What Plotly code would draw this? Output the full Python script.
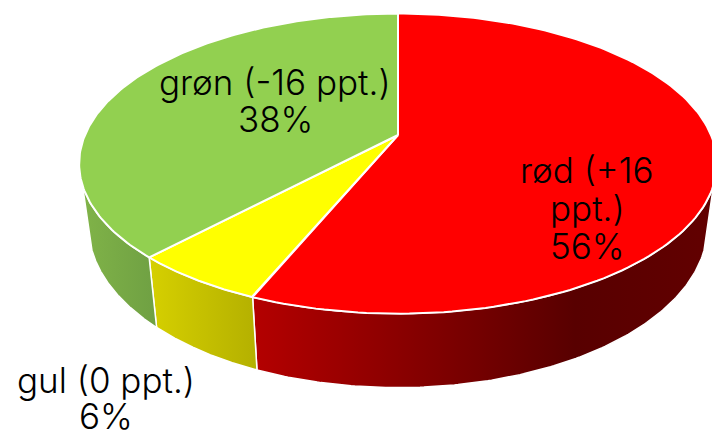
import numpy as np
import plotly.graph_objects as go

categories = ["rød", "gul", "grøn"]
values = [56.25, 5.75, 38.0]
shown_percent = ["56%", "6%", "38%"]
changes = ["+16 ppt.", "0 ppt.", "-16 ppt."]
top_colors = ["#FF0000", "#FFFF00", "#92D050"]
wall_colors = [
    [[0, "#B40000"], [0.7, "#580000"], [1, "#620000"]],
    [[0, "#D6D000"], [1, "#B4B000"]],
    [[0, "#80B348"], [1, "#6FA043"]],
]

# perspective pie geometry in the 712x430 pixel frame
CX, CY, A, B, K = 398.0, 135.0, 313.0, 144.6, 0.1907
SX, SY, Y0 = 0.97, 1.07, 196.5
WALL_MIN, WALL_MAX = 109.0, 251.0


def top(theta):
    t = np.radians(theta)
    d = 1 + K * np.cos(t)
    return CX + A * np.sin(t) / d, CY - B * np.cos(t) / d


def bottom(theta):
    x, y = top(theta)
    return CX + SX * (x - CX), Y0 + SY * (y - CY)


fig = go.Figure()
edges = np.cumsum([0] + values) * 3.6
walls, faces = [], []
for i, name in enumerate(categories):
    a0, a1 = edges[i], edges[i + 1]
    th = np.linspace(a0, a1, 160)
    x, y = top(th)
    faces.append(go.Scatter(
        x=np.r_[CX, x, CX], y=np.r_[CY, y, CY], mode="lines", fill="toself",
        fillcolor=top_colors[i], line=dict(color="white", width=2),
        hoverinfo="skip", showlegend=False, name=name))
    w0, w1 = max(a0, WALL_MIN), min(a1, WALL_MAX)
    th = np.linspace(w0, w1, 160)
    xt, yt = top(th)
    xb, yb = bottom(th)
    px = np.r_[xt, xb[::-1], xt[0]]
    py = np.r_[yt, yb[::-1], yt[0]]
    walls.append(go.Scatter(
        x=px, y=py, mode="lines", fill="toself",
        fillgradient=dict(type="horizontal", colorscale=wall_colors[i],
                          start=float(px.min()), stop=float(px.max())),
        line=dict(color="white", width=1.5),
        hoverinfo="skip", showlegend=False))
for t in walls + faces:
    fig.add_trace(t)

FONT = dict(family="Inter", size=35, color="black", weight=300)
label_lines = [
    (f"{categories[2]} ({changes[2]})", 275, 82),
    (shown_percent[2], 275, 119),
    (f"{categories[0]} ({changes[0].split()[0]}", 587, 170),
    (f"{changes[0].split()[1]})", 587, 208),
    (shown_percent[0], 587, 246),
    (f"{categories[1]} ({changes[1]})", 106, 380),
    (shown_percent[1], 106, 416),
]
for text, x, y in label_lines:
    fig.add_annotation(x=x, y=y, text=text, showarrow=False, font=FONT,
                       xanchor="center", yanchor="middle")

fig.update_layout(
    width=712, height=430, margin=dict(l=0, r=0, t=0, b=0),
    paper_bgcolor="white", plot_bgcolor="white", showlegend=False,
    xaxis=dict(range=[0, 712], visible=False, fixedrange=True),
    yaxis=dict(range=[430, 0], visible=False, fixedrange=True),
)
fig.write_html("out.html", config=dict(displayModeBar=False),
               post_script="document.body.style.margin='0';document.documentElement.style.overflow='hidden';")
